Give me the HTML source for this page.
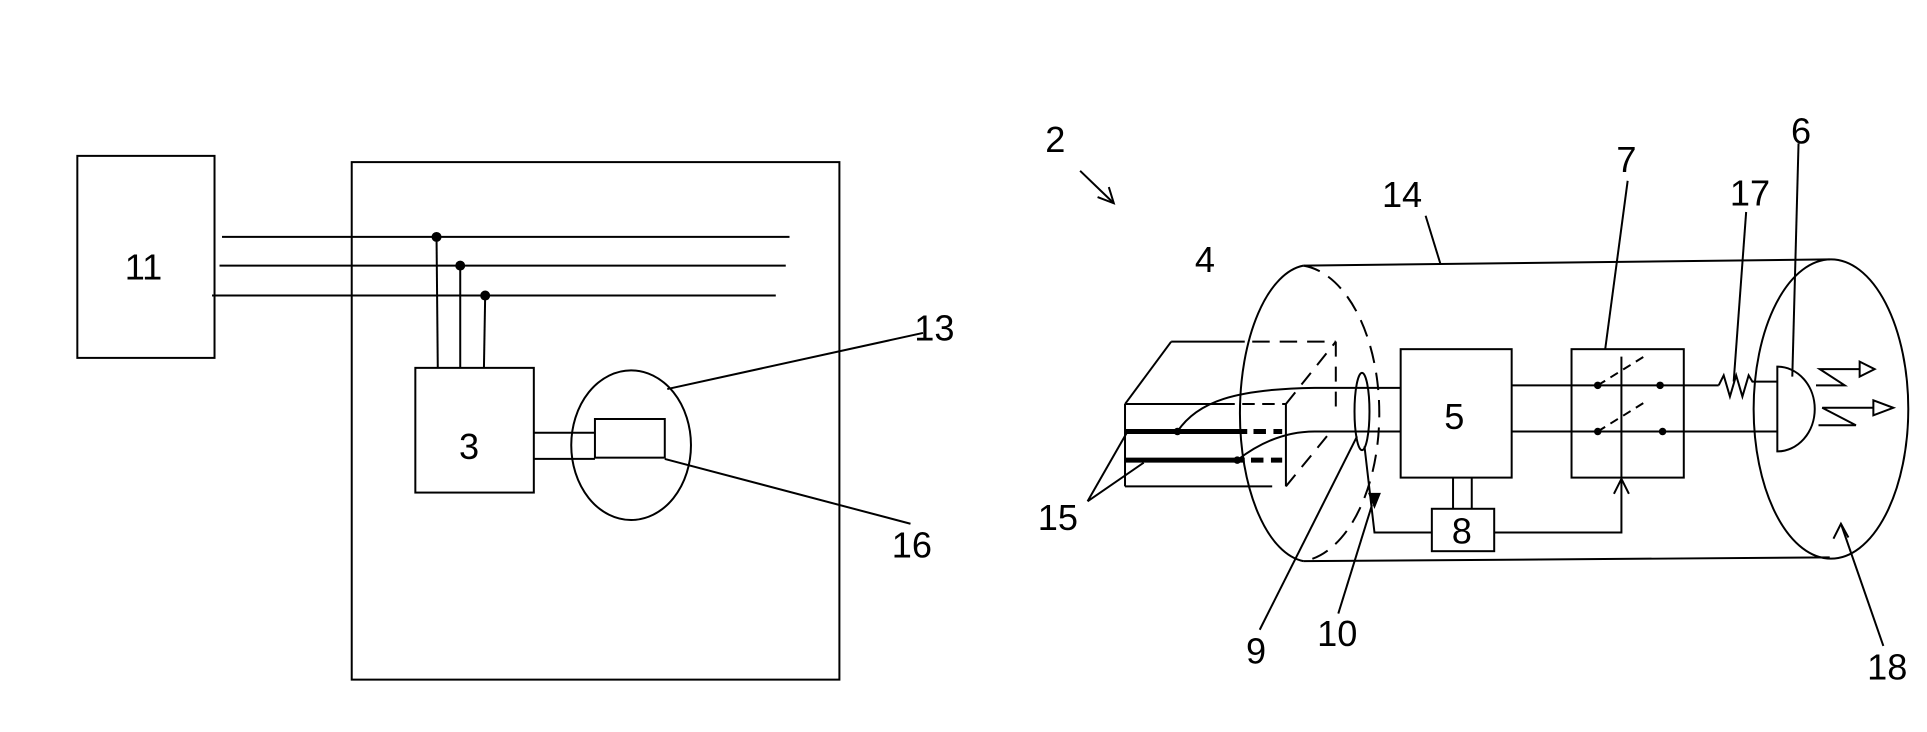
<!DOCTYPE html>
<html><head><meta charset="utf-8"><style>
html,body{margin:0;padding:0;background:#fff;}
svg{display:block;}
text{font-family:"Liberation Sans",sans-serif;font-size:29px;fill:#000;}
</style></head><body>
<svg width="1927" height="732" viewBox="0 0 1545 587" preserveAspectRatio="none" xmlns="http://www.w3.org/2000/svg">
<g fill="none" stroke="#000" stroke-width="1.6">
<!-- left figure -->
<rect x="62" y="125" width="110" height="162"/>
<rect x="282" y="130" width="391" height="415"/>
<line x1="178" y1="190" x2="633" y2="190"/>
<line x1="176" y1="213" x2="630" y2="213"/>
<line x1="170" y1="237" x2="622" y2="237"/>
<line x1="350" y1="190" x2="351" y2="295"/>
<line x1="369" y1="213" x2="369" y2="295"/>
<line x1="389" y1="237" x2="388" y2="295"/>
<rect x="333" y="295" width="95" height="100"/>
<line x1="428" y1="347" x2="477" y2="347"/>
<line x1="428" y1="368" x2="477" y2="368"/>
<ellipse cx="506" cy="357" rx="48" ry="60"/>
<rect x="477" y="336" width="56" height="31"/>
<line x1="535" y1="312" x2="740" y2="267"/>
<line x1="533" y1="368" x2="730" y2="420"/>
<!-- right figure -->
<line x1="866" y1="137" x2="893" y2="163"/>
<polyline points="880,158 893,163 889,150"/>
<line x1="1045" y1="213" x2="1467" y2="208"/>
<line x1="1045" y1="450" x2="1467" y2="447"/>
<path d="M1045,213 A56,119 0 0 0 1045,450"/>
<path d="M1045,213 A67,119 0 0 1 1045,450" stroke-dasharray="14,8"/>
<ellipse cx="1468" cy="328" rx="62" ry="120"/>
<line x1="1143" y1="173" x2="1155" y2="212"/>
<!-- box 4 -->
<line x1="902" y1="324" x2="902" y2="390"/>
<line x1="902" y1="390" x2="1020" y2="390"/>
<line x1="902" y1="324" x2="939" y2="274"/>
<line x1="939" y1="274" x2="998" y2="274"/>
<line x1="1004" y1="274" x2="1071" y2="274" stroke-dasharray="14,8"/>
<line x1="902" y1="324" x2="990" y2="324"/>
<line x1="996" y1="324" x2="1031" y2="324" stroke-dasharray="10,6"/>
<line x1="1031" y1="324" x2="1031" y2="390"/>
<line x1="1031" y1="324" x2="1071" y2="274" stroke-dasharray="12,8"/>
<line x1="1071" y1="274" x2="1071" y2="332" stroke-dasharray="12,8"/>
<line x1="1031" y1="390" x2="1067" y2="346" stroke-dasharray="12,8"/>
<line x1="902" y1="346" x2="1000" y2="346" stroke-width="4"/>
<line x1="1005" y1="346" x2="1028" y2="346" stroke-width="4" stroke-dasharray="10,6"/>
<line x1="902" y1="369" x2="998" y2="369" stroke-width="4"/>
<line x1="1003" y1="369" x2="1028" y2="369" stroke-width="4" stroke-dasharray="10,6"/>
<path d="M944,346 C960,322 990,312 1054,311 L1123,311"/>
<path d="M992,369 C1010,355 1030,346 1054,346 L1123,346"/>
<line x1="872" y1="402" x2="904" y2="346"/>
<line x1="872" y1="402" x2="917" y2="371"/>
<ellipse cx="1092" cy="330" rx="6" ry="31"/>
<line x1="1088" y1="350" x2="1010" y2="505"/>
<line x1="1073" y1="492" x2="1100" y2="405"/>
<polyline points="1094,358 1102,427 1148,427"/>
<polygon points="1098,396 1106,396 1102,406" fill="#000"/>
<rect x="1123" y="280" width="89" height="103"/>
<rect x="1148" y="408" width="50" height="34"/>
<line x1="1165" y1="383" x2="1165" y2="408"/>
<line x1="1180" y1="383" x2="1180" y2="408"/>
<polyline points="1198,427 1300,427 1300,384"/>
<polyline points="1294,396 1300,384 1306,396"/>
<rect x="1260" y="280" width="90" height="103"/>
<line x1="1305" y1="145" x2="1287" y2="280"/>
<line x1="1212" y1="309" x2="1378" y2="309"/>
<polyline points="1378,309 1382,301 1387,318 1392,301 1397,318 1402,301 1405,306 1425,306"/>
<line x1="1212" y1="346" x2="1425" y2="346"/>
<line x1="1281" y1="309" x2="1318" y2="286" stroke-dasharray="7,5"/>
<line x1="1281" y1="346" x2="1318" y2="323" stroke-dasharray="7,5"/>
<line x1="1300" y1="286" x2="1300" y2="383"/>
<line x1="1400" y1="170" x2="1390" y2="306"/>
<path d="M1425,294 L1425,362 A30,34 0 0 0 1425,294 Z"/>
<line x1="1442" y1="115" x2="1437" y2="302"/>
<polyline points="1456,309 1479,309 1459,296 1491,296"/>
<polygon points="1491,290 1503,296 1491,302"/>
<polyline points="1458,341 1488,341 1461,327 1502,327"/>
<polygon points="1502,321 1518,327 1502,333"/>
<line x1="1510" y1="518" x2="1476" y2="420"/>
<polyline points="1470,432 1476,420 1482,431"/>
</g>
<g fill="#000">
<circle cx="350" cy="190" r="4"/>
<circle cx="369" cy="213" r="4"/>
<circle cx="389" cy="237" r="4"/>
<circle cx="944" cy="346" r="3"/>
<circle cx="992" cy="369" r="3"/>
<circle cx="1281" cy="309" r="3"/>
<circle cx="1331" cy="309" r="3"/>
<circle cx="1281" cy="346" r="3"/>
<circle cx="1333" cy="346" r="3"/>
</g>
<text x="100" y="224">11</text>
<text x="368" y="368">3</text>
<text x="733" y="273">13</text>
<text x="715" y="447">16</text>
<text x="838" y="122">2</text>
<text x="1108" y="166">14</text>
<text x="958" y="218">4</text>
<text x="832" y="425">15</text>
<text x="999" y="532">9</text>
<text x="1056" y="518">10</text>
<text x="1158" y="344">5</text>
<text x="1164" y="436">8</text>
<text x="1296" y="138">7</text>
<text x="1387" y="165">17</text>
<text x="1436" y="115">6</text>
<text x="1497" y="545">18</text>
</svg>
</body></html>
